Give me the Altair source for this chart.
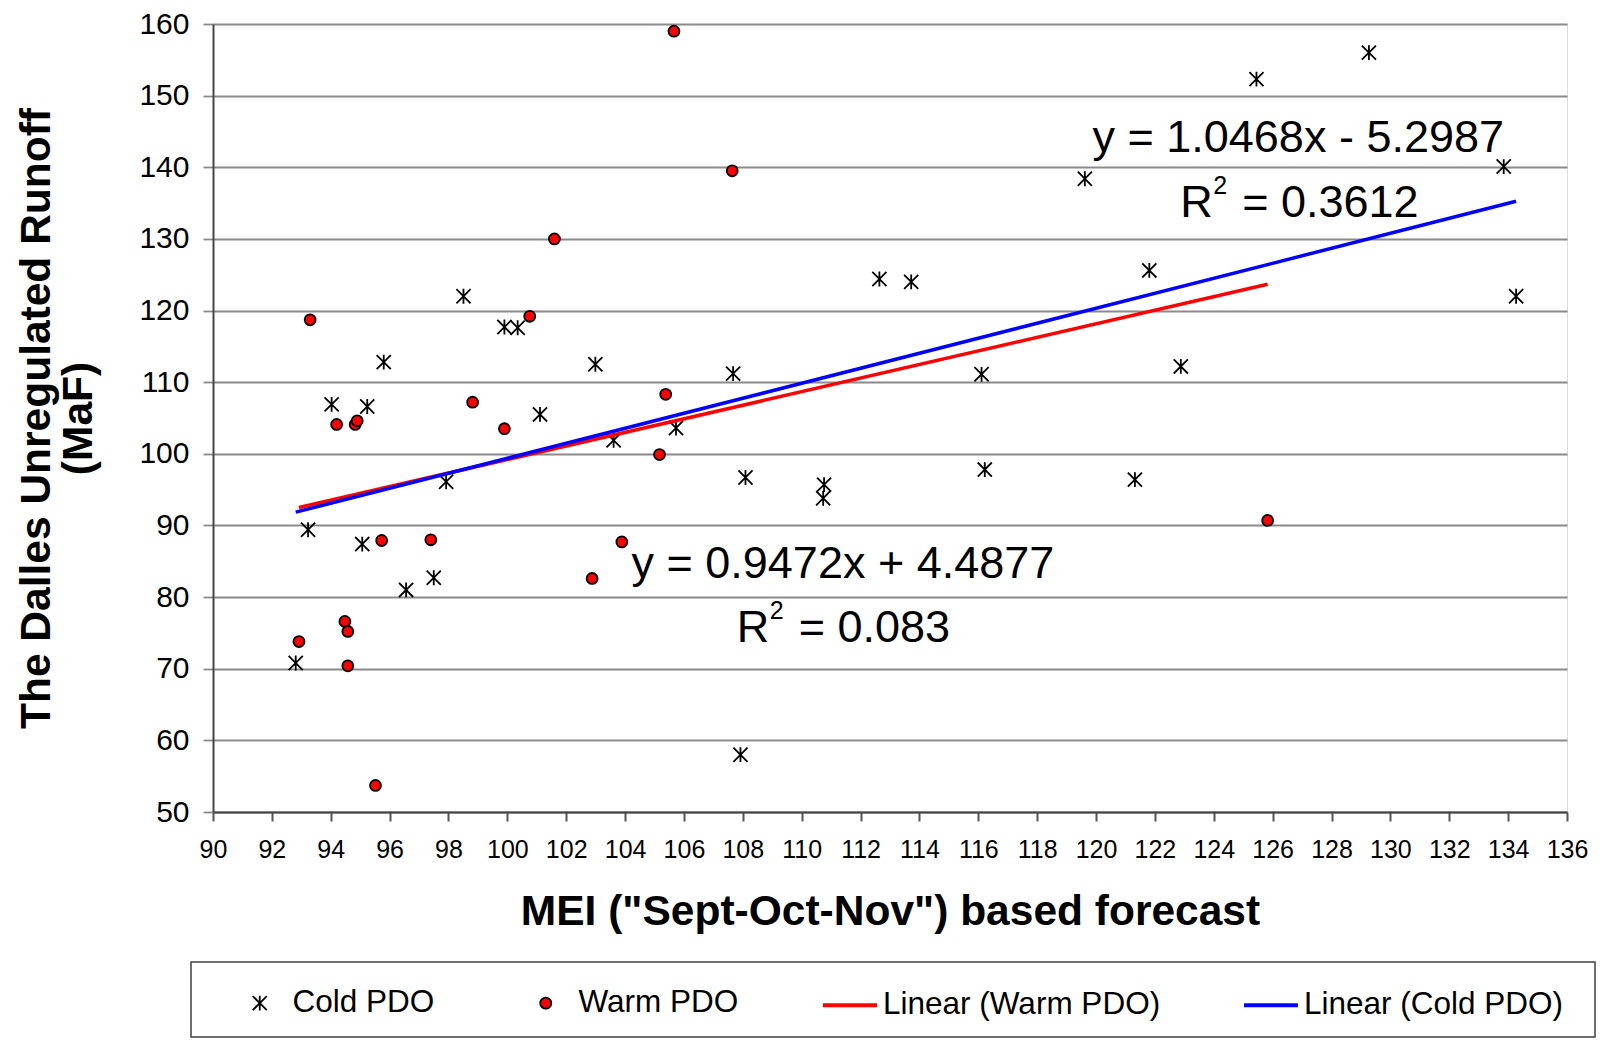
import altair as alt
import pandas as pd

# ---- data ----
cold_x = [92.81, 93.23, 94.03, 95.24, 95.80, 95.07, 96.56, 97.50, 97.92, 98.51, 99.90,
          100.35, 101.11, 102.99, 103.61, 105.73, 107.67, 108.09, 107.92, 110.76, 110.73,
          112.64, 113.72, 116.11, 116.22, 119.62, 121.32, 121.81, 122.88, 125.45, 129.27,
          133.85, 134.27]
cold_y = [70.8, 89.4, 106.9, 106.6, 112.8, 87.4, 81.0, 82.7, 96.1, 122.0, 117.7,
          117.6, 105.5, 112.5, 101.9, 103.6, 111.2, 96.7, 58.0, 95.7, 93.8,
          124.4, 124.0, 111.1, 97.8, 138.4, 96.4, 125.6, 112.2, 152.3, 156.0,
          140.1, 122.0]
warm_x = [92.92, 93.30, 94.20, 94.83, 94.90, 94.48, 94.58, 94.58, 95.52, 95.73, 97.40,
          98.82, 99.90, 100.76, 101.60, 102.88, 103.89, 105.17, 105.38, 105.66, 107.64,
          125.83]
warm_y = [73.8, 118.7, 104.1, 104.1, 104.6, 76.6, 75.2, 70.4, 53.7, 87.9, 88.0,
          107.2, 103.5, 119.2, 130.0, 82.6, 87.7, 99.9, 108.3, 159.0, 139.5,
          90.7]

series_names = ["Cold PDO", "Warm PDO"]
trend_names = ["Linear (Warm PDO)", "Linear (Cold PDO)"]
# trendline equations shown on the chart
warm_slope, warm_intercept = 0.9472, 4.4877
cold_slope, cold_intercept = 1.0468, -5.2987

eq_text = ["y = 1.0468x - 5.2987", "y = 0.9472x + 4.4877"]
eq_x = [126.87, 111.4]
eq_y = [142.2, 82.7]
r2_text = ["= 0.3612", "= 0.083"]
r2_x = [122.86, 107.79]
r2_y = [133.1, 73.8]

x_ticks = list(range(90, 137, 2))
y_ticks = list(range(50, 161, 10))

# ---- tables ----
pts = pd.DataFrame({
    "x": cold_x + warm_x,
    "y": cold_y + warm_y,
    "pdo": [series_names[0]] * len(cold_x) + [series_names[1]] * len(warm_x),
})

wx = [min(warm_x), max(warm_x)]
cx = [min(cold_x), max(cold_x)]
trend = pd.DataFrame({
    "x": wx + cx,
    "y": [warm_slope * v + warm_intercept for v in wx] + [cold_slope * v + cold_intercept for v in cx],
    "trend": [trend_names[0]] * 2 + [trend_names[1]] * 2,
    "ord": [0, 1, 2, 3],
})
eq = pd.DataFrame({"x": eq_x, "y": eq_y, "t": eq_text})
r2 = pd.DataFrame({"x": r2_x, "y": r2_y, "t": r2_text, "r": ["R", "R"], "s": ["2", "2"]})

FONT = "Liberation Sans"
ASTER = "M-1,-1L1,1M-1,1L1,-1M0,-1.05L0,1.05"

xs = alt.Scale(domain=[90, 136], nice=False, zero=False)
ys = alt.Scale(domain=[50, 160], nice=False, zero=False)

x_axis = alt.Axis(values=x_ticks, title='MEI ("Sept-Oct-Nov") based forecast', grid=False,
                  labelFontSize=25, labelFont=FONT, labelColor="black", labelPadding=16,
                  labelOverlap=False, labelFlush=False,
                  tickSize=9, tickColor="#555555", tickWidth=2,
                  domainColor="#444444", domainWidth=2,
                  titleFont=FONT, titleFontSize=42.5, titleFontWeight="bold",
                  titleColor="black", titlePadding=28)
y_axis = alt.Axis(values=y_ticks, title=["The Dalles Unregulated Runoff", "(MaF)"],
                  grid=True, gridColor="#8a8a8a", gridWidth=1.8,
                  labelFontSize=30, labelFont=FONT, labelColor="black", labelPadding=14,
                  labelOverlap=False, labelFlush=False,
                  tickSize=10, tickColor="#8a8a8a", tickWidth=1.8,
                  domainColor="#444444", domainWidth=2,
                  titleFont=FONT, titleFontSize=42.5, titleFontWeight="bold",
                  titleColor="black", titlePadding=38, titleLineHeight=42)

pt_legend = alt.Legend(orient="none", legendX=31, legendY=963, direction="horizontal",
                       columns=2, columnPadding=95, labelOffset=17, labelFontSize=31.5,
                       labelFont=FONT, labelColor="black", title=None, padding=0,
                       labelLimit=500, symbolStrokeWidth=1.8)
ln_legend = alt.Legend(orient="none", legendX=608, legendY=952, direction="horizontal",
                       columns=2, columnPadding=75, labelOffset=4, labelFontSize=31.5,
                       labelFont=FONT, labelColor="black", title=None, padding=0,
                       labelLimit=500, symbolType="stroke", symbolSize=2916,
                       symbolStrokeWidth=4)

box = alt.Chart(pd.DataFrame({"a": [0]})).mark_rect(
    fill="transparent", stroke="#404040", strokeWidth=1.5
).encode(x=alt.value(-22), x2=alt.value(1382), y=alt.value(938), y2=alt.value(1013))

lines = alt.Chart(trend).mark_line(strokeWidth=3.5).encode(
    x=alt.X("x:Q", scale=xs, axis=x_axis),
    y=alt.Y("y:Q", scale=ys, axis=y_axis),
    stroke=alt.Stroke("trend:N", scale=alt.Scale(domain=trend_names, range=["#ff0000", "#0000ff"]),
                      legend=ln_legend),
    order="ord:Q",
)

points = alt.Chart(pts).mark_point(stroke="black", strokeWidth=1.8, opacity=1, fillOpacity=1).encode(
    x=alt.X("x:Q", scale=xs),
    y=alt.Y("y:Q", scale=ys),
    fill=alt.Fill("pdo:N", scale=alt.Scale(domain=series_names, range=["transparent", "#ff0000"]),
                  legend=pt_legend),
    shape=alt.Shape("pdo:N", scale=alt.Scale(domain=series_names, range=[ASTER, "circle"]),
                    legend=pt_legend),
    size=alt.Size("pdo:N", scale=alt.Scale(domain=series_names, range=[200, 120]),
                  legend=pt_legend),
)

txt = dict(font=FONT, color="black", baseline="alphabetic")
eq_layer = alt.Chart(eq).mark_text(align="center", fontSize=45, **txt).encode(
    x=alt.X("x:Q", scale=xs), y=alt.Y("y:Q", scale=ys), text="t:N")
r_layer = alt.Chart(r2).mark_text(align="left", fontSize=45, **txt).encode(
    x=alt.X("x:Q", scale=xs), y=alt.Y("y:Q", scale=ys), text="r:N")
s_layer = alt.Chart(r2).mark_text(align="left", fontSize=25, dx=33, dy=-23, **txt).encode(
    x=alt.X("x:Q", scale=xs), y=alt.Y("y:Q", scale=ys), text="s:N")
v_layer = alt.Chart(r2).mark_text(align="left", fontSize=45, dx=62, **txt).encode(
    x=alt.X("x:Q", scale=xs), y=alt.Y("y:Q", scale=ys), text="t:N")

chart = alt.layer(box, points, lines, eq_layer, r_layer, s_layer, v_layer).properties(
    width=1354, height=788,
    autosize=alt.AutoSizeParams(type="none"),
    padding={"left": 205, "top": 16, "right": 29, "bottom": 227},
).configure_view(stroke="#8a8a8a", strokeWidth=2).configure(background="white")

chart.save("out.html", embed_options={"renderer": "svg", "actions": False})
